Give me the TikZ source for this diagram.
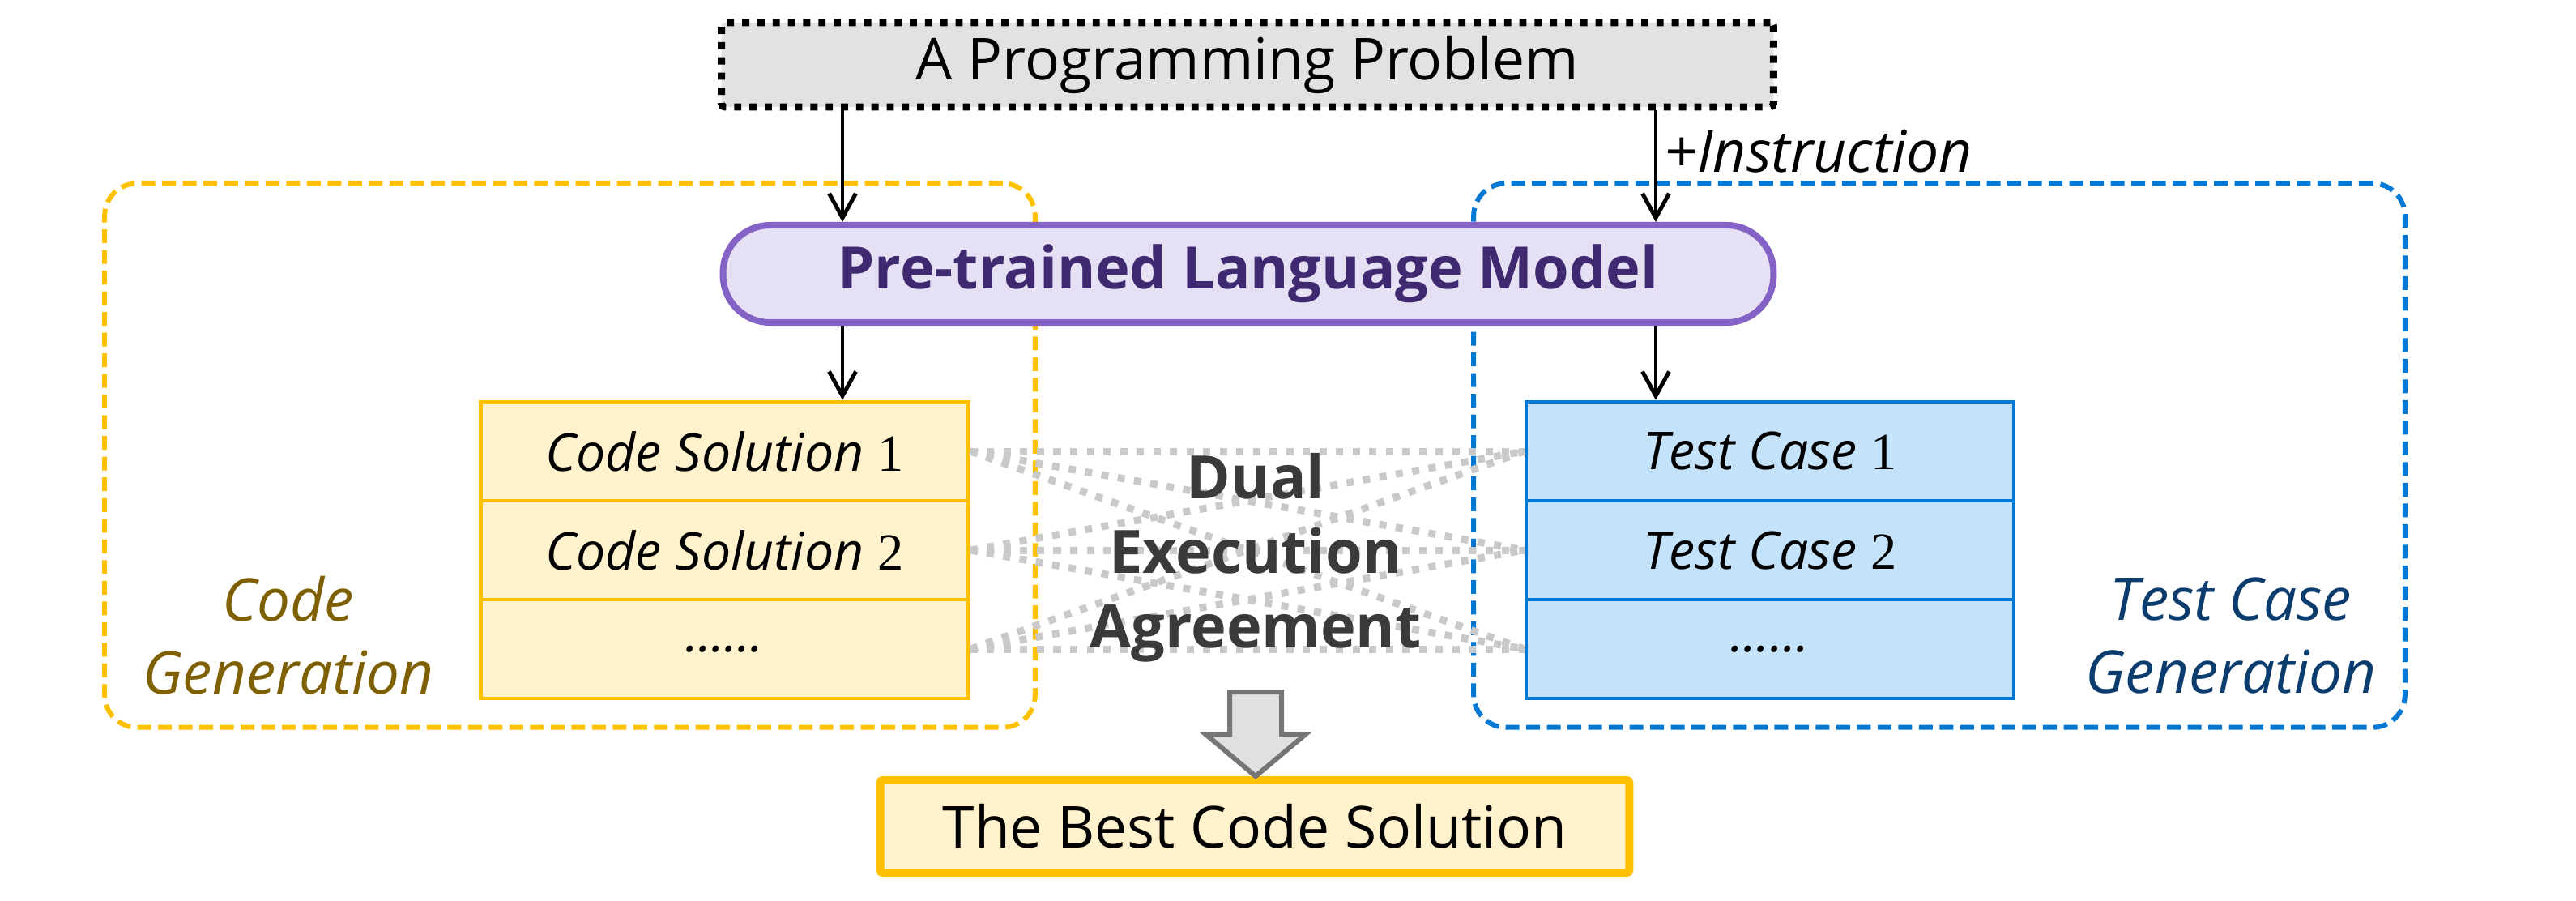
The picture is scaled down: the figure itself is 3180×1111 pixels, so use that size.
\documentclass[tikz,border=0pt]{standalone}
\usepackage{fontspec}
\setmainfont{Open Sans}
\newfontfamily\numfont{Liberation Serif}
\usetikzlibrary{arrows.meta}

\definecolor{amber}{HTML}{FFC000}
\definecolor{amberfill}{HTML}{FFF2CC}
\definecolor{amberlabel}{HTML}{7F6000}
\definecolor{azure}{HTML}{0078D4}
\definecolor{azurefill}{HTML}{C4E2FA}
\definecolor{azurelabel}{HTML}{0B3C6E}
\definecolor{lmborder}{HTML}{8462C6}
\definecolor{lmfill}{HTML}{E6E0F4}
\definecolor{lmtext}{HTML}{3F2A72}
\definecolor{probfill}{HTML}{E2E2E2}
\definecolor{agreegray}{HTML}{C9C9C9}
\definecolor{dualtext}{HTML}{3A3A3A}
\definecolor{bigarrowfill}{HTML}{E0E0E0}
\definecolor{bigarrowline}{HTML}{767676}

\begin{document}
\begin{tikzpicture}[x=0.01cm,y=-0.01cm,
  grp/.style={draw, line width=0.06cm, rounded corners=0.4cm,
    dash pattern=on 0.17cm off 0.085cm, inner sep=0pt,
    minimum height=6.71cm},
  grplabel/.style={font=\fontsize{20.7}{25.6}\selectfont\itshape, align=center, inner sep=0pt},
  row/.style={draw, line width=0.045cm, inner sep=0pt,
    minimum width=6.02cm, minimum height=1.22cm,
    font=\fontsize{18.3}{22}\selectfont},
  coderow/.style={row, draw=amber, fill=amberfill},
  testrow/.style={row, draw=azure, fill=azurefill},
  flow/.style={line width=0.045cm,
    -{Straight Barb[length=0.3cm,width=0.33cm,line width=0.05cm]}},
  agree/.style={draw=agreegray, line width=0.09cm, dash pattern=on 0.09cm off 0.115cm},
]
\useasboundingbox (0,0) rectangle (3180,1111);

% generation groups
\node[grp, draw=amber, minimum width=11.48cm] (cgbox) at (703.5,562) {};
\node[grp, draw=azure, minimum width=11.49cm] (tcbox) at (2394,562) {};
\node[grplabel, text=amberlabel] (cglabel) at (356,784) {Code\\Generation};
\node[grplabel, text=azurelabel] (tclabel) at (2754,784) {Test Case\\Generation};

% input problem
\node[draw, fill=probfill, line width=0.088cm, dash pattern=on 0.088cm off 0.1cm,
  rounded corners=0.04cm, minimum width=12.98cm, minimum height=1.04cm, inner sep=0pt,
  font=\fontsize{20.3}{25}\selectfont] (problem) at (1540,80) {A Programming Problem};

% language model
\node[draw=lmborder, fill=lmfill, text=lmtext, line width=0.08cm,
  rounded corners=0.58cm, minimum width=12.96cm, minimum height=1.2cm, inner sep=0pt,
  font=\fontsize{20.5}{25}\selectfont\bfseries] (lm) at (1541,338) {Pre-trained Language Model};

% candidate stacks
\node[coderow] (c1) at (894.5,557) {\textit{Code Solution} {\numfont 1}};
\node[coderow] (c2) at (894.5,679) {\textit{Code Solution} {\numfont 2}};
\node[coderow] (c3) at (894.5,801) {\textit{......}};
\node[testrow] (t1) at (2185,557) {\textit{Test Case} {\numfont 1}};
\node[testrow] (t2) at (2185,679) {\textit{Test Case} {\numfont 2}};
\node[testrow] (t3) at (2185,801) {\textit{......}};

% flow arrows
\coordinate (lx) at (1040,0);
\coordinate (rx) at (2044,0);
\draw[flow] (problem.south -| lx) -- (lm.north -| lx);
\draw[flow] (problem.south -| rx) -- (lm.north -| rx);
\draw[flow] (lm.south -| lx) -- (c1.north -| lx);
\draw[flow] (lm.south -| rx) -- (t1.north -| rx);
\node[anchor=base west, inner sep=0pt, font=\fontsize{20.3}{24}\selectfont\itshape]
  (instr) at (2054,212) {+Instruction};

% dual execution links
\foreach \c in {c1,c2,c3}{
  \foreach \t in {t1,t2,t3}{
    \draw[agree] (\c.east) -- (\t.west);
  }
}
\node[align=center, inner sep=0pt, text=dualtext,
  font=\fontsize{21}{26.2}\selectfont\bfseries] (dual) at (1550,688) {Dual\\Execution\\Agreement};

% selection arrow and result
\node[draw=amber, fill=amberfill, line width=0.1cm, rounded corners=0.03cm,
  minimum width=9.24cm, minimum height=1.14cm, inner sep=0pt,
  font=\fontsize{20.3}{26}\selectfont] (best) at (1549,1020) {The Best Code Solution};
\coordinate (tip) at (1550,958);
\draw[fill=bigarrowfill, draw=bigarrowline, line width=0.06cm, line join=miter]
  (1518,854) -- (1518,906) -- (1488,906) -- (tip) -- (1612,906)
  -- (1582,906) -- (1582,854) -- cycle;
\end{tikzpicture}
\end{document}
